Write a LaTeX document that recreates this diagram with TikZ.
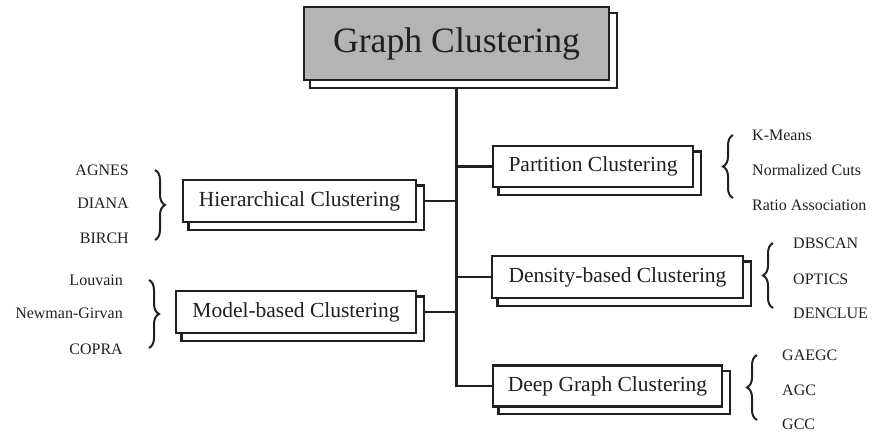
\documentclass[tikz,border=0pt]{standalone}
\usepackage{fontspec}
\setmainfont{Liberation Serif}
\usetikzlibrary{backgrounds,decorations.pathreplacing}
\definecolor{ink}{RGB}{35,31,32}
\definecolor{boxgray}{RGB}{180,180,181}
\tikzset{
  catbox/.style={draw=ink, line width=2.2pt, fill=white, inner sep=0pt, text=ink,
    font=\fontsize{21.5}{24}\selectfont},
  shadowbox/.style={draw=ink, line width=2.2pt, fill=white},
  conn/.style={draw=ink, line width=2.3pt},
  bracestyle/.style={draw=ink, line width=2pt, decorate,
    decoration={brace, amplitude=10pt}},
  leaf/.style={inner sep=0pt, text=ink, font=\fontsize{16}{19}\selectfont}
}
\begin{document}
\begin{tikzpicture}[x=1pt,y=1pt]
\useasboundingbox (0,0) rectangle (881,432);

% nodes
\node[catbox, fill=boxgray, minimum width=305pt, minimum height=73pt,
  font=\fontsize{35.7}{40}\selectfont] (main) at (456.5,388.5) {Graph Clustering};
\node[catbox, minimum width=233pt, minimum height=42pt] (hier) at (299.5,231) {Hierarchical Clustering};
\node[catbox, minimum width=240pt, minimum height=42pt] (model) at (296,120) {Model-based Clustering};
\node[catbox, minimum width=200pt, minimum height=41pt] (part) at (593,265.5) {Partition Clustering};
\node[catbox, minimum width=251pt, minimum height=42pt] (dens) at (617.5,155) {Density-based Clustering};
\node[catbox, minimum width=229pt, minimum height=41pt] (deep) at (607.5,46) {Deep Graph Clustering};

% leaves, left side
\node[leaf, anchor=east] (agnes) at (129,262) {AGNES};
\node[leaf, anchor=east] (diana) at (129,229) {DIANA};
\node[leaf, anchor=east] (birch) at (129,194) {BIRCH};
\node[leaf, anchor=east] (louv) at (123,152) {Louvain};
\node[leaf, anchor=east] (newm) at (123,119) {Newman-Girvan};
\node[leaf, anchor=east] (copra) at (123,83) {COPRA};
% leaves, right side
\node[leaf, anchor=west] (kmeans) at (752,297) {K-Means};
\node[leaf, anchor=west] (ncuts) at (752,262) {Normalized Cuts};
\node[leaf, anchor=west] (ratio) at (752,227) {Ratio Association};
\node[leaf, anchor=west] (dbscan) at (793,189) {DBSCAN};
\node[leaf, anchor=west] (optics) at (793,153) {OPTICS};
\node[leaf, anchor=west] (denclue) at (793,119) {DENCLUE};
\node[leaf, anchor=west] (gaegc) at (782,77) {GAEGC};
\node[leaf, anchor=west] (agc) at (782,42) {AGC};
\node[leaf, anchor=west] (gcc) at (782,8) {GCC};

% braces
\coordinate (hbt) at (155,262);
\coordinate (hbb) at (155,192);
\coordinate (mbt) at (149,152);
\coordinate (mbb) at (149,84);
\coordinate (pbt) at (733,297);
\coordinate (pbb) at (733,234);
\coordinate (dbt) at (773,189);
\coordinate (dbb) at (773,124);
\coordinate (gbt) at (757,77);
\coordinate (gbb) at (757,12);
\draw[bracestyle] (hbt) -- (hbb);
\draw[bracestyle] (mbt) -- (mbb);
\draw[bracestyle] (pbb) -- (pbt);
\draw[bracestyle] (dbb) -- (dbt);
\draw[bracestyle] (gbb) -- (gbt);

\begin{scope}[on background layer]
  % connectors
  \draw[conn] (main.south) |- (deep.west);
  \draw[conn] (hier.east) -- (hier.east -| main.south);
  \draw[conn] (model.east) -- (model.east -| main.south);
  \draw[conn] (part.west) -- (part.west -| main.south);
  \draw[conn] (dens.west) -- (dens.west -| main.south);
  % shadows
  \draw[shadowbox] ([xshift=7pt,yshift=-7pt]main.south west) rectangle ([xshift=7pt,yshift=-7pt]main.north east);
  \foreach \n in {hier,model,part,dens,deep}
    \draw[shadowbox] ([xshift=6.5pt,yshift=-6.5pt]\n.south west) rectangle ([xshift=6.5pt,yshift=-6.5pt]\n.north east);
\end{scope}
\end{tikzpicture}
\end{document}
